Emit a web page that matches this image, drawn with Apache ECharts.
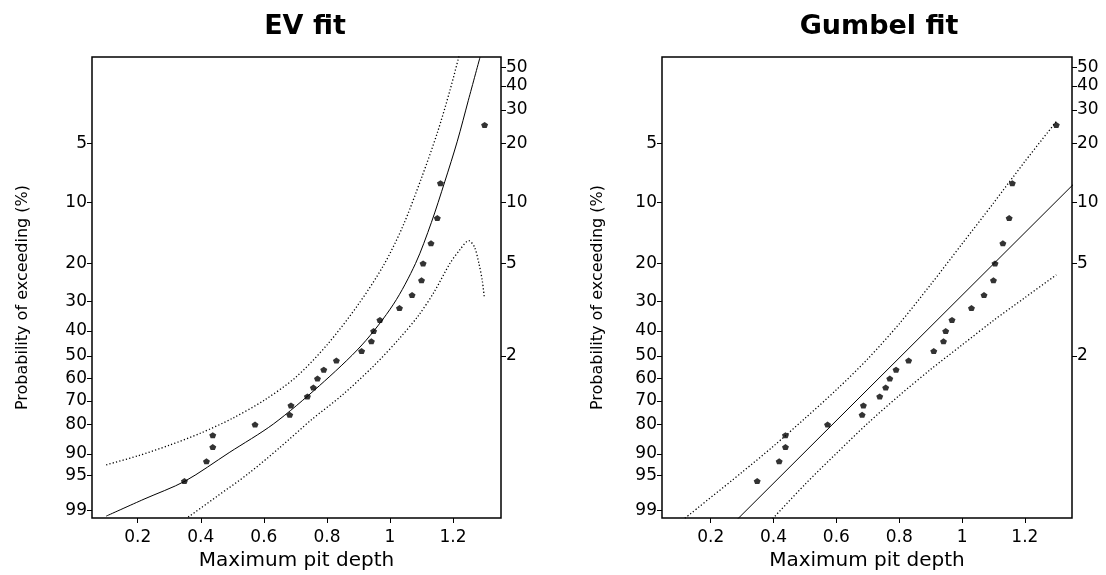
<!DOCTYPE html>
<html>
<head>
<meta charset="utf-8">
<title>EV fit / Gumbel fit</title>
<script src="https://cdn.jsdelivr.net/npm/echarts@6/dist/echarts.min.js"></script>
<style>
  html, body { margin: 0; padding: 0; background: #fff; }
  #chart { width: 1106px; height: 575px; }
</style>
</head>
<body>
<div id="chart"></div>
<script>
// observed maximum pit depths, largest first, with their plotting positions (% exceeding)
const pitDepth = [1.30, 1.16, 1.15, 1.13, 1.105, 1.10, 1.07, 1.03, 0.968, 0.948, 0.941, 0.91,
  0.83, 0.79, 0.77, 0.757, 0.738, 0.686, 0.682, 0.572, 0.438, 0.438, 0.418, 0.348];
const exceedPct = [4, 8, 12, 16, 20, 24, 28, 32, 36, 40, 44, 48,
  52, 56, 60, 64, 68, 72, 76, 80, 84, 88, 92, 96];

// fitted curves and bands, [depth, % exceeding]
const evFit = [[0.10, 99.29], [0.22, 98.20], [0.35, 96.01], [0.49, 89.67], [0.63, 79.81],
  [0.776, 63.21], [0.911, 45.47], [1.011, 30.78], [1.081, 20.00], [1.131, 12.66],
  [1.1735, 7.88], [1.2135, 4.86], [1.2485, 2.97], [1.2856, 1.76]];
const evUpper = [[0.10, 92.85], [0.20, 90.59], [0.30, 87.44], [0.40, 83.24], [0.50, 77.51],
  [0.60, 69.80], [0.70, 59.54], [0.80, 45.47], [0.90, 30.78], [0.98, 20.36], [1.04, 13.26],
  [1.10, 7.51], [1.15, 4.40], [1.19, 2.64], [1.22, 1.71]];
const evLower = [[0.36, 99.33], [0.45, 97.97], [0.55, 94.74], [0.65, 88.21], [0.75, 78.17],
  [0.85, 67.24], [0.95, 54.10], [1.03, 42.87], [1.09, 34.51], [1.14, 27.14], [1.19, 20.00],
  [1.22, 17.31], [1.25, 15.52], [1.268, 16.70], [1.282, 20.00], [1.293, 24.27], [1.299, 28.79]];

const gumbelFit = [[0.28, 99.47], [1.36, 7.94]];
const gumbelUpper = [[0.11, 99.45], [0.30, 94.42], [0.40, 87.70], [0.50, 77.51], [0.60, 65.05],
  [0.70, 51.27], [0.80, 37.36], [0.90, 25.13], [1.00, 16.10], [1.10, 10.10], [1.20, 6.19], [1.30, 3.84]];
const gumbelLower = [[0.39, 99.48], [0.50, 96.50], [0.60, 89.90], [0.70, 79.49], [0.80, 67.62],
  [0.90, 55.90], [1.00, 45.47], [1.10, 36.19], [1.20, 28.79], [1.30, 22.64]];

// tick labels
const depthTicks = [0.2, 0.4, 0.6, 0.8, 1, 1.2];
const probTicks = [5, 10, 20, 30, 40, 50, 60, 70, 80, 90, 95, 99];
const returnTicks = [2, 5, 10, 20, 30, 40, 50];

// Gumbel probability paper: reduced variate of the exceedance probability
const gumbelY = (pct) => -Math.log(-Math.log(1 - pct / 100));
const toPlot = (pairs) => pairs.map(([d, p]) => [d, gumbelY(p)]);
const yMin = -1.622;
const yMax = 4.032;

const font = 'DejaVu Sans';
const ink = '#000';

const labelFor = (ticks, toY) => (v) => {
  const t = ticks.find((t) => Math.abs(toY(t) - v) < 1e-6);
  return t === undefined ? '' : String(t);
};

const probValues = probTicks.map(gumbelY);
const returnY = (T) => gumbelY(100 / T);
const returnValues = returnTicks.map(returnY);

const tickStyle = (values) => ({
  show: true, inside: false, length: 5, customValues: values,
  lineStyle: { color: ink, width: 1 },
});

const makeX = (gridIndex, min, max) => ({
  gridIndex, type: 'value', min, max, position: 'bottom',
  name: 'Maximum pit depth', nameLocation: 'middle', nameGap: 33,
  nameTextStyle: { fontFamily: font, fontSize: 20, color: ink },
  axisLine: { show: false, onZero: false },
  axisTick: tickStyle(depthTicks),
  axisLabel: {
    customValues: depthTicks, margin: 11, fontFamily: font, fontSize: 17, color: ink,
    formatter: (v) => String(v),
  },
  splitLine: { show: false },
});

const makeYLeft = (gridIndex, nameGap) => ({
  gridIndex, type: 'value', min: yMin, max: yMax, position: 'left',
  name: 'Probability of exceeding (%)', nameLocation: 'middle', nameGap,
  // nudge the rotated title a little below the box centre, as in the original
  nameTextStyle: { fontFamily: font, fontSize: 16, color: ink, padding: [0, 20, 0, 0] },
  axisLine: { show: false, onZero: false },
  axisTick: tickStyle(probValues),
  axisLabel: {
    customValues: probValues, margin: 5, fontFamily: font, fontSize: 17, color: ink,
    formatter: labelFor(probTicks, gumbelY),
  },
  splitLine: { show: false },
});

const makeYRight = (gridIndex) => ({
  gridIndex, type: 'value', min: yMin, max: yMax, position: 'right',
  axisLine: { show: false, onZero: false },
  axisTick: tickStyle(returnValues),
  axisLabel: {
    customValues: returnValues, margin: 5, fontFamily: font, fontSize: 17, color: ink,
    formatter: labelFor(returnTicks, returnY),
  },
  splitLine: { show: false },
});

const points = (xAxisIndex, yAxisIndex) => ({
  type: 'scatter', xAxisIndex, yAxisIndex,
  data: pitDepth.map((d, i) => [d, gumbelY(exceedPct[i])]),
  symbol: 'path://M5,0 L10,4 L8,10 L2,10 L0,4 Z', symbolSize: [7, 6],
  itemStyle: { color: ink }, z: 5,
});

const curve = (xAxisIndex, yAxisIndex, pairs, dotted) => ({
  type: 'line', xAxisIndex, yAxisIndex, data: toPlot(pairs),
  showSymbol: false, symbol: 'none', smooth: 0.3, clip: true,
  lineStyle: dotted
    ? { color: ink, width: 1.3, type: [1.2, 2.2] }
    : { color: ink, width: 1 },
});

const gridBox = { show: true, borderColor: ink, borderWidth: 1.5, backgroundColor: '#fff', outerBoundsMode: 'none' };

const option = {
  backgroundColor: '#fff',
  animation: false,
  title: [
    { text: 'EV fit', left: 300, top: 8, textAlign: 'center',
      textStyle: { fontFamily: font, fontSize: 27, fontWeight: 'bold', color: ink } },
    { text: 'Gumbel fit', left: 874, top: 8, textAlign: 'center',
      textStyle: { fontFamily: font, fontSize: 27, fontWeight: 'bold', color: ink } },
  ],
  grid: [
    { ...gridBox, left: 92, top: 57, width: 409, height: 461 },
    { ...gridBox, left: 662, top: 57, width: 410, height: 461 },
  ],
  xAxis: [makeX(0, 0.055, 1.352), makeX(1, 0.045, 1.35)],
  yAxis: [makeYLeft(0, 61), makeYRight(0), makeYLeft(1, 56), makeYRight(1)],
  series: [
    curve(0, 0, evUpper, true),
    curve(0, 0, evLower, true),
    curve(0, 0, evFit, false),
    points(0, 0),
    curve(1, 2, gumbelUpper, true),
    curve(1, 2, gumbelLower, true),
    { ...curve(1, 2, gumbelFit, false), smooth: false },
    points(1, 2),
  ],
};

const chart = echarts.init(document.getElementById('chart'), null, { renderer: 'canvas' });
chart.setOption(option);
</script>
</body>
</html>
